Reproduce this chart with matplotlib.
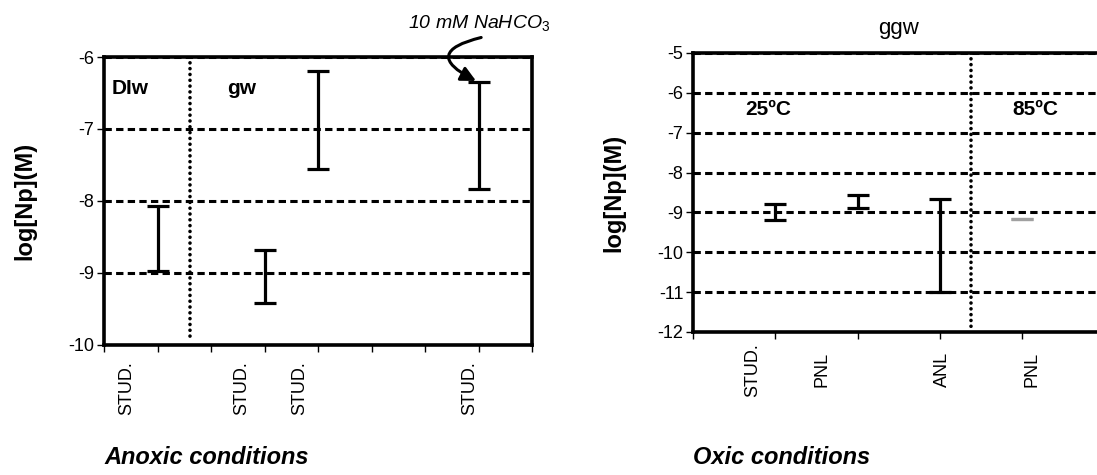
import matplotlib
matplotlib.use('Agg')
import matplotlib.pyplot as plt
from matplotlib.transforms import blended_transform_factory

plt.rcParams['font.family'] = ['Liberation Sans', 'DejaVu Sans']
plt.rcParams['mathtext.fontset'] = 'custom'
plt.rcParams['mathtext.rm'] = 'Liberation Sans'
plt.rcParams['mathtext.it'] = 'Liberation Sans:italic'

# anoxic conditions (left panel)
anox_x = [1, 3, 4, 7]
anox_lo = [-8.97, -9.41, -7.55, -7.83]
anox_hi = [-8.07, -8.68, -6.19, -6.35]
anox_labels = ['STUD.', 'STUD.', 'STUD.', 'STUD.']
anox_label_x = [0.43, 2.58, 3.66, 6.84]
anox_yticks = [-10, -9, -8, -7, -6]

# oxic conditions (right panel), ggw
oxic_x = [1, 2, 3]
oxic_lo = [-9.20, -8.89, -11.0]
oxic_hi = [-8.78, -8.57, -8.66]
oxic85_x = [4]
oxic85_val = [-9.16]
oxic_labels = ['STUD.', 'PNL', 'ANL', 'PNL']
oxic_label_x = [0.72, 1.57, 3.03, 4.12]
oxic_yticks = [-12, -11, -10, -9, -8, -7, -6, -5]

fig = plt.figure(figsize=(10.97, 4.75), dpi=100)
ax1 = fig.add_axes([0.0948, 0.2737, 0.3902, 0.6063])
ax2 = fig.add_axes([0.6317, 0.3011, 0.3750, 0.5874])


def style(ax, xmax, yticks):
    ax.set_xlim(0, xmax)
    ax.set_ylim(yticks[0], yticks[-1])
    ax.set_xticks(range(xmax + 1))
    ax.set_xticklabels([])
    ax.set_yticks(yticks)
    ax.set_yticklabels([str(t) for t in yticks], fontsize=13)
    for t in yticks:
        ax.axhline(t, color='black', lw=2.2, ls=(0, (2.4, 1.4)), zorder=1)
    for s in ax.spines.values():
        s.set_linewidth(2.6)
        s.set_zorder(5)
    ax.tick_params(direction='out', length=5, width=1, pad=2)
    ax.set_ylabel('log[Np](M)', fontsize=17, fontweight='bold', labelpad=23)


def bars(ax, x, lo, hi, color):
    mid = [(a + b) / 2 for a, b in zip(lo, hi)]
    err = [[m - a for m, a in zip(mid, lo)], [b - m for m, b in zip(mid, hi)]]
    ax.errorbar(x, mid, yerr=err, fmt='none', ecolor=color, elinewidth=2.3,
                capsize=8, capthick=2.3, zorder=4)


def cat_labels(ax, xs, labels, yoff):
    tr = blended_transform_factory(ax.transData, ax.transAxes)
    for a, lab in zip(xs, labels):
        ax.text(a, yoff, lab, rotation=90, ha='center', va='center',
                fontsize=13, transform=tr, clip_on=False)


# left panel
style(ax1, 8, anox_yticks)
ax1.plot([1.6, 1.6], [-6, -9.93], color='black', lw=2.6, ls=(0, (0.01, 1.6)),
         dash_capstyle='round', zorder=3)
bars(ax1, anox_x, anox_lo, anox_hi, 'black')
ax1.text(0.15, -6.44, 'DIw', fontsize=15, fontweight='bold', va='center')
ax1.text(2.3, -6.44, 'gw', fontsize=15, fontweight='bold', va='center')
cat_labels(ax1, anox_label_x, anox_labels, -0.149)
ax1.annotate('', xy=(7, anox_hi[3]), xytext=(7.1, -5.72),
             arrowprops=dict(arrowstyle='-|>', color='black', lw=2.2,
                             mutation_scale=22,
                             connectionstyle='arc3,rad=1.4'),
             annotation_clip=False, zorder=6)
ax1.text(5.68, -5.53, '10 mM NaHCO$_3$', fontsize=14, style='italic',
         va='center', ha='left', clip_on=False)

# right panel
style(ax2, 5, oxic_yticks)
ax2.plot([3.38, 3.38], [-5, -12], color='black', lw=2.6, ls=(0, (0.01, 1.6)),
         dash_capstyle='round', zorder=3)
bars(ax2, oxic_x, oxic_lo, oxic_hi, 'black')
bars(ax2, oxic85_x, oxic85_val, oxic85_val, '#a0a0a0')
ax2.text(0.63, -6.43, '25ºC', fontsize=15, fontweight='bold', va='center')
ax2.text(3.88, -6.43, '85ºC', fontsize=15, fontweight='bold', va='center')
cat_labels(ax2, oxic_label_x, oxic_labels, -0.136)
ax2.set_title('ggw', fontsize=16, pad=14)

fig.text(0.0948, 0.012, 'Anoxic conditions', fontsize=17, fontweight='bold',
         style='italic', ha='left', va='bottom')
fig.text(0.6317, 0.012, 'Oxic conditions', fontsize=17, fontweight='bold',
         style='italic', ha='left', va='bottom')

fig.savefig('out.png', dpi=100)
